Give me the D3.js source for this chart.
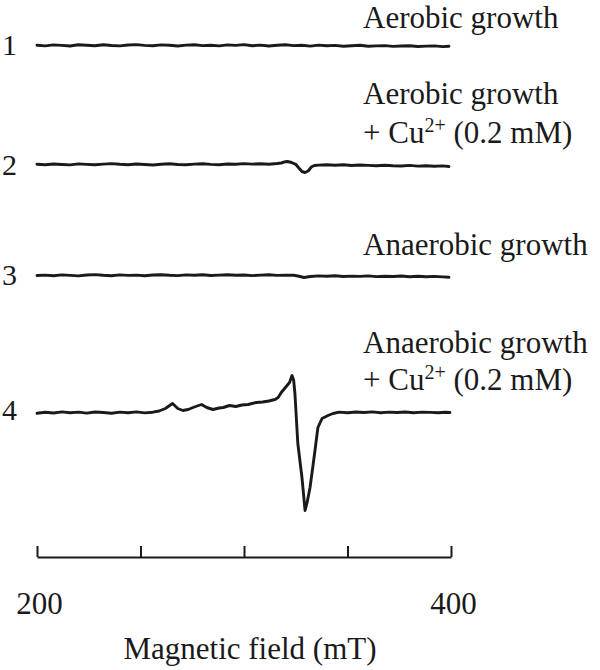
<!DOCTYPE html>
<html>
<head>
<meta charset="utf-8">
<script src="https://cdn.jsdelivr.net/npm/d3@7"></script>
<style>
  html, body { margin: 0; padding: 0; background: #fff; }
  svg { display: block; }
  text { font-family: "Liberation Serif", "Times New Roman", serif; fill: #1a1a1a; }
</style>
</head>
<body>
<svg id="chart" width="600" height="670"></svg>
<script>
// ---------------- data ----------------
const spectrumNumbers = ["1", "2", "3", "4"];
const spectrumLabels = [
  ["Aerobic growth"],
  ["Aerobic growth", "+ Cu|2+| (0.2 mM)"],
  ["Anaerobic growth"],
  ["Anaerobic growth", "+ Cu|2+| (0.2 mM)"]
];
// vertical stacking offsets of the traces (arbitrary intensity units)
const stackOffsets = [0, -119, -230, -367];

const tickValues = [200, 250, 300, 350, 400];
const tickLabels = [200, 400];
const axisTitle = "Magnetic field (mT)";

// magnetic field (mT) of each sampled point
const field1 = d3.range(200, 397, 4).concat([399]);
const field2 = d3.range(200, 317, 4)
  .concat([318, 320, 321, 323, 325, 326.5, 328, 329.5, 331, 332.5, 334, 336])
  .concat(d3.range(340, 397, 4)).concat([399]);
const field3 = d3.range(200, 325, 4)
  .concat([326, 329, 332])
  .concat(d3.range(336, 397, 4)).concat([399]);
const field4 = [200,204,208,212,216,220,224,228,232,236,240,244,248,252,256,259,262,265.5,268,270.5,
  273,276,279.5,282,285,288,290,293,296,299,302,306,309,312,315,316.5,318,320,322,323.2,
  324,324.6,326,328,329.5,330.5,331.9,334.3,335.7,337.7,340.6,343,346,350,354,358,362,366,370,374,
  378,382,386,390,394,397,399.5];

// EPR signal intensity (arbitrary units)
const signal1 = [0.3,-0.4,0.6,0.1,-0.5,0.8,0.2,-0.3,0.7,0.0,-0.4,0.5,0.9,0.1,-0.3,0.6,0.2,-0.5,0.4,0.8,
  -0.1,0.3,-0.4,0.6,0.1,0.9,-0.2,0.4,-0.5,0.3,0.7,-0.1,0.2,-0.6,0.4,-0.2,0.1,-0.7,-0.3,0.2,
  -0.8,-0.4,-0.1,-0.9,-0.5,-0.2,-1.0,-0.6,-0.4,-1.1,-0.8];
const signal2 = [0.2,-0.3,0.5,0,-0.4,0.6,0.1,-0.3,0.4,0.9,0.2,-0.2,0.5,0,-0.5,0.3,0.7,0,-0.3,0.4,
  0.8,0.1,-0.2,0.5,0.2,0.9,0.4,0.7,0.3,1.0,
  1.5,2.8,3.0,2.0,0.2,-3.5,-7,-8,-6.5,-2.5,-1,-0.6,
  -0.2,-0.8,-0.3,-1.0,-0.5,-0.9,-1.3,-0.7,-1.2,-1.5,-0.9,-1.6,-1.2,-1.8,-1.4,-2.0];
const signal3 = [0,0.4,-0.3,0.6,0.1,-0.4,0.5,0.9,0.2,-0.2,0.6,0.1,0.4,-0.3,0.5,0.8,0.2,-0.1,0.6,0.3,
  0.7,0,0.4,0.8,0.2,0.5,-0.1,0.4,0.7,0.1,0.3,0.2,
  -0.5,-2.0,-1.0,
  -0.4,-0.8,-0.3,-1.0,-0.6,-0.9,-0.4,-1.1,-0.7,-1.0,-0.5,-1.2,-0.8,-1.3,-0.9,-1.4,-1.8];
const signal4 = [-0.8,0.3,-0.5,0.6,-0.2,0.4,-0.6,0.5,0,-0.7,0.4,-0.3,0.6,-0.4,0.3,1.5,4,9,4,2,
  3,5.5,8,5,3,4.5,5,7,6,7.5,8,10,10.5,11.5,13,15,20,25,30,37,
  32,19,-31,-65,-98,-90,-75,-38,-15,-6,-3,-1,0.4,-0.3,0.5,0,0.6,-0.2,0.4,0,
  0.5,-0.3,0.4,0.1,-0.2,0.3,0];

const fields = [field1, field2, field3, field4];
const signals = [signal1, signal2, signal3, signal4];

// ---------------- drawing ----------------
const svg = d3.select("#chart");
const x = d3.scaleLinear().domain([200, 400]).range([37, 451]);
const y = d3.scaleLinear().domain([0, -467]).range([45.5, 512.5]);

const line = d3.line()
  .x(d => x(d[0]))
  .y(d => y(d[1] + d[2]));

const series = fields.map((f, i) => f.map((v, j) => [v, signals[i][j], stackOffsets[i]]));

svg.append("g").selectAll("path")
  .data(series)
  .join("path")
  .attr("d", line)
  .attr("fill", "none")
  .attr("stroke", "#1a1a1a")
  .attr("stroke-width", 2.9)
  .attr("stroke-linejoin", "round")
  .attr("stroke-linecap", "round");

// trace numbers
const numberBaselines = [55, 175, 285, 420];
svg.append("g").selectAll("text")
  .data(spectrumNumbers)
  .join("text")
  .attr("x", 2)
  .attr("y", (d, i) => numberBaselines[i])
  .attr("font-size", 30)
  .text(d => d);

// trace labels
const labelBaselines = [[28], [104, 143], [255], [353, 390]];
const labelG = svg.append("g");
spectrumLabels.forEach((lines, i) => {
  lines.forEach((ln, k) => {
    const t = labelG.append("text")
      .attr("x", 363)
      .attr("y", labelBaselines[i][k])
      .attr("font-size", 31);
    const parts = ln.split("|");
    if (parts.length === 1) {
      t.text(ln);
    } else {
      t.append("tspan").text(parts[0]);
      t.append("tspan").attr("font-size", 20).attr("dy", -11).text(parts[1]);
      t.append("tspan").attr("dy", 11).text(parts[2]);
    }
  });
});

// axis
const axis = d3.axisBottom(x)
  .tickValues(tickValues)
  .tickSize(-11)
  .tickSizeOuter(0)
  .tickFormat(d => tickLabels.includes(d) ? String(d) : "");

const ax = svg.append("g")
  .attr("transform", "translate(0,557)")
  .call(axis);
ax.select(".domain").attr("stroke", "#1a1a1a").attr("stroke-width", 2);
ax.selectAll(".tick line").attr("stroke", "#1a1a1a").attr("stroke-width", 2);
ax.selectAll(".tick text")
  .attr("y", 57)
  .attr("dy", null)
  .attr("x", 2)
  .attr("font-size", 31)
  .attr("font-family", "Liberation Serif, Times New Roman, serif")
  .attr("fill", "#1a1a1a");

svg.append("text")
  .attr("x", 250)
  .attr("y", 659)
  .attr("text-anchor", "middle")
  .attr("font-size", 31)
  .text(axisTitle);
</script>
</body>
</html>
